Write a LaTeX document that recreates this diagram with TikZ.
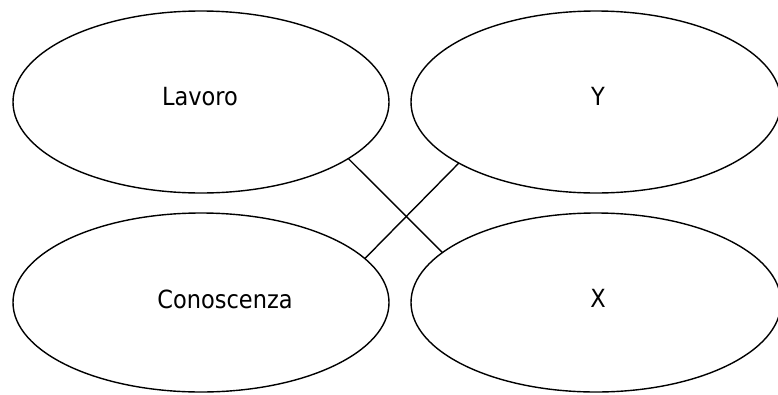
\documentclass[tikz,border=0pt]{standalone}
\usepackage{fontspec}
\setmainfont{DejaVu Sans}[FakeStretch=0.9]
\usetikzlibrary{shapes.geometric}
\begin{document}
\begin{tikzpicture}[x=1pt,y=-1pt,
  oval/.style={draw=black, line width=1.4pt, ellipse, inner sep=0pt, outer sep=0pt},
  lbl/.style={anchor=base, inner sep=0pt, font=\fontsize{25}{30}\selectfont},
  link/.style={draw=black, line width=1.4pt}]
\useasboundingbox (0,0) rectangle (778,394);
\node[oval, minimum width=376pt, minimum height=182pt] (e1) at (201,102) {};
\node[oval, minimum width=370pt, minimum height=182pt] (e2) at (596,102) {};
\node[oval, minimum width=376pt, minimum height=179pt] (e3) at (201,302.5) {};
\node[oval, minimum width=370pt, minimum height=179pt] (e4) at (596,302.5) {};
\node[lbl] (t1) at (200,105) {Lavoro};
\node[lbl] (t2) at (598,105) {Y};
\node[lbl] (t3) at (225,308) {Conoscenza};
\node[lbl] (t4) at (598,307) {X};
\draw[link] (e1.-21.1) -- (e4.162.7);
\draw[link] (e2.204.9) -- (e3.15.3);
\end{tikzpicture}
\end{document}
